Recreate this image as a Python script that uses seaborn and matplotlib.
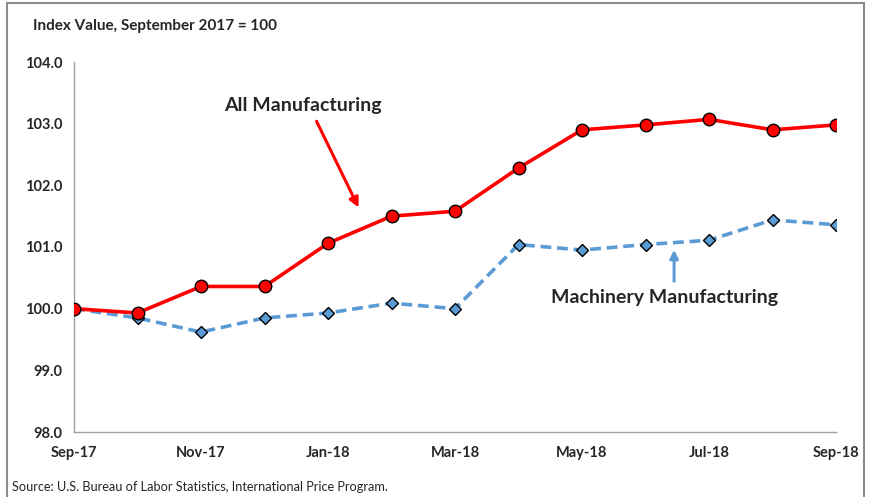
import matplotlib
matplotlib.use("Agg")
import matplotlib.pyplot as plt
import seaborn as sns
import pandas as pd
from matplotlib.patches import Rectangle

months = ["Sep-17", "Oct-17", "Nov-17", "Dec-17", "Jan-18", "Feb-18", "Mar-18",
          "Apr-18", "May-18", "Jun-18", "Jul-18", "Aug-18", "Sep-18"]
all_mfg = [100.0, 99.93, 100.36, 100.36, 101.06, 101.5, 101.58,
           102.28, 102.9, 102.98, 103.07, 102.9, 102.98]
machinery = [100.0, 99.85, 99.62, 99.85, 99.93, 100.09, 100.0,
             101.04, 100.95, 101.04, 101.11, 101.44, 101.36]
yticks = [98.0, 99.0, 100.0, 101.0, 102.0, 103.0, 104.0]

sns.set_theme(style="white")
plt.rcParams['font.family'] = ['Lato', 'DejaVu Sans']

df = pd.DataFrame({"idx": list(range(len(months))), "all": all_mfg, "mach": machinery})

fig = plt.figure(figsize=(8.72, 4.97), dpi=100)
ax = fig.add_axes([74/872, 1-432/497, (836-74)/872, (432-62)/497])

sns.lineplot(data=df, x="idx", y="mach", ax=ax, color="#5B9BD5", linewidth=2.6,
             linestyle=(0, (3, 1.6)), marker="D", markersize=6.5,
             markerfacecolor="#5B9BD5", markeredgecolor="black", markeredgewidth=1.0, zorder=3)
sns.lineplot(data=df, x="idx", y="all", ax=ax, color="#FF0000", linewidth=2.6,
             marker="o", markersize=9, markerfacecolor="#FF0000",
             markeredgecolor="black", markeredgewidth=1.0, zorder=4)

ax.set_xlim(0, len(months) - 1)
ax.set_ylim(98, 104)
ax.set_yticks(yticks)
ax.set_yticklabels([f"{v:.1f}" for v in yticks], fontsize=10.5, fontweight="bold")
ax.set_xticks(list(range(0, len(months), 2)))
ax.set_xticklabels(months[::2], fontsize=10.5, fontweight="bold")
ax.set_xlabel("")
ax.set_ylabel("")
for s in ["top", "right"]:
    ax.spines[s].set_visible(False)
for s in ["left", "bottom"]:
    ax.spines[s].set_color("#A0A0A0")
    ax.spines[s].set_linewidth(1.0)
ax.tick_params(axis="y", which="major", direction="out", length=4.5, color="#A0A0A0", pad=4)
ax.tick_params(axis="x", which="major", direction="inout", length=8, color="#A0A0A0", pad=6)
ax.grid(False)

fig.text(33/872, 1-26/497, "Index Value, September 2017 = 100", fontsize=11,
         fontweight="bold", va="center", ha="left")
fig.text(12/872, 1-487/497, "Source: U.S. Bureau of Labor Statistics, International Price Program.",
         fontsize=9.2, va="center", ha="left")

ax.annotate("", xy=(4.5, 101.6), xytext=(3.8, 103.08),
            arrowprops=dict(arrowstyle="-|>", color="#FF0000", lw=2.2, mutation_scale=14))
ax.text(3.6, 103.3, "All Manufacturing", fontsize=14, fontweight="bold", ha="center", va="center")

ax.annotate("", xy=(9.45, 101.0), xytext=(9.45, 100.4),
            arrowprops=dict(arrowstyle="-|>", color="#5B9BD5", lw=2.2, mutation_scale=12))
ax.text(9.3, 100.18, "Machinery Manufacturing", fontsize=14, fontweight="bold", ha="center", va="center")

fig.patches.append(Rectangle((7/872, -0.05), (864-7)/872, 1.05 - 3/497, transform=fig.transFigure,
                             fill=False, edgecolor="#8C8C8C", linewidth=1.5))

fig.savefig("out.png", dpi=100)
